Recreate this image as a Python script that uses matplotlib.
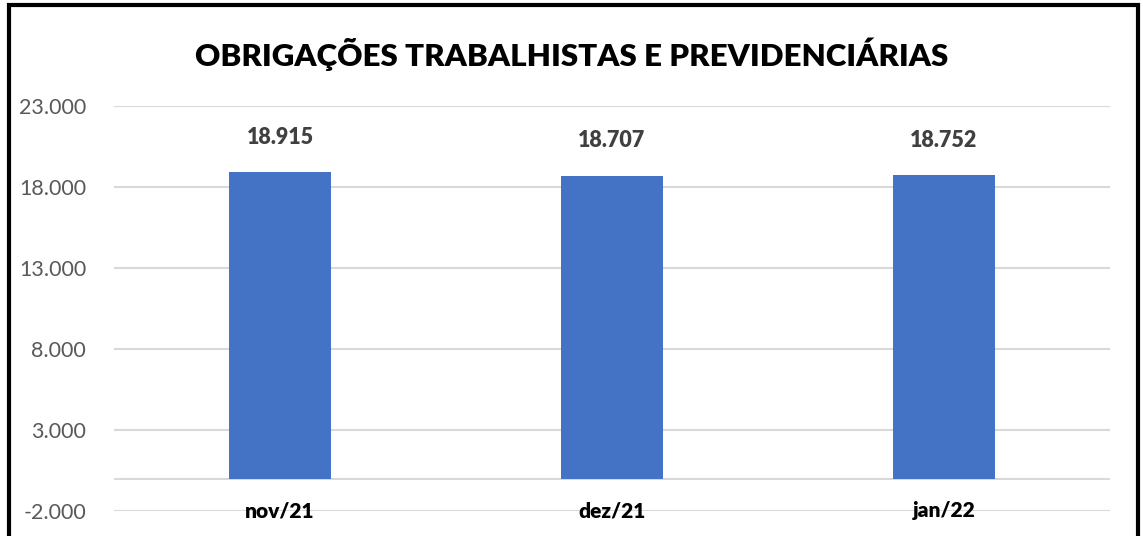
import matplotlib
matplotlib.use("Agg")
import matplotlib.pyplot as plt
from matplotlib.patches import Rectangle
from matplotlib.ticker import FuncFormatter

categories = ["nov/21", "dez/21", "jan/22"]
values = [18915, 18707, 18752]
yticks = [-2000, 3000, 8000, 13000, 18000, 23000]
title = "OBRIGAÇÕES TRABALHISTAS E PREVIDENCIÁRIAS"

plt.rcParams['font.family'] = ['Lato', 'DejaVu Sans']

fig = plt.figure(figsize=(11.43, 5.36), dpi=100)
ax = fig.add_axes([114/1143, 1 - 511/536, (1110-114)/1143, (511-106)/536])

x = list(range(len(categories)))
ax.bar(x, values, width=0.31, color="#4472C4", zorder=3)
ax.set_xlim(-0.5, 2.5)
ax.set_ylim(-2000, 23000)
ax.set_yticks(yticks)
ax.yaxis.set_major_formatter(FuncFormatter(lambda v, p: f"{int(v):,}".replace(",", ".")))
ax.grid(axis="y", color="#D9D9D9", linewidth=1.5, zorder=0)
ax.axhline(0, color="#D9D9D9", linewidth=1.5, zorder=1)
for s in ax.spines.values():
    s.set_visible(False)
ax.tick_params(axis="y", length=0, pad=20, labelsize=15.5, labelcolor="#595959")
ax.tick_params(axis="x", length=0)
ax.set_xticks([])
for xi, c in zip(x, categories):
    ax.text(xi, -2000, c, ha="center", va="center", fontsize=15, fontweight="heavy", color="black")
for xi, v in zip(x, values):
    ax.annotate(f"{v:,}".replace(",", "."), (xi, v), xytext=(0, 25), textcoords="offset points",
                ha="center", va="center", fontsize=15.5, fontweight="heavy", color="#404040")

fig.text(572/1143, 1 - 54/536, title, ha="center", va="center", fontsize=22.5, fontweight="heavy", color="black")

fig.patches.append(Rectangle((8.5/1143, -0.05), (1138-8.5)/1143, 1.05 - 5/536, transform=fig.transFigure,
                             fill=False, edgecolor="black", linewidth=3))

fig.savefig("out.png", dpi=100)
